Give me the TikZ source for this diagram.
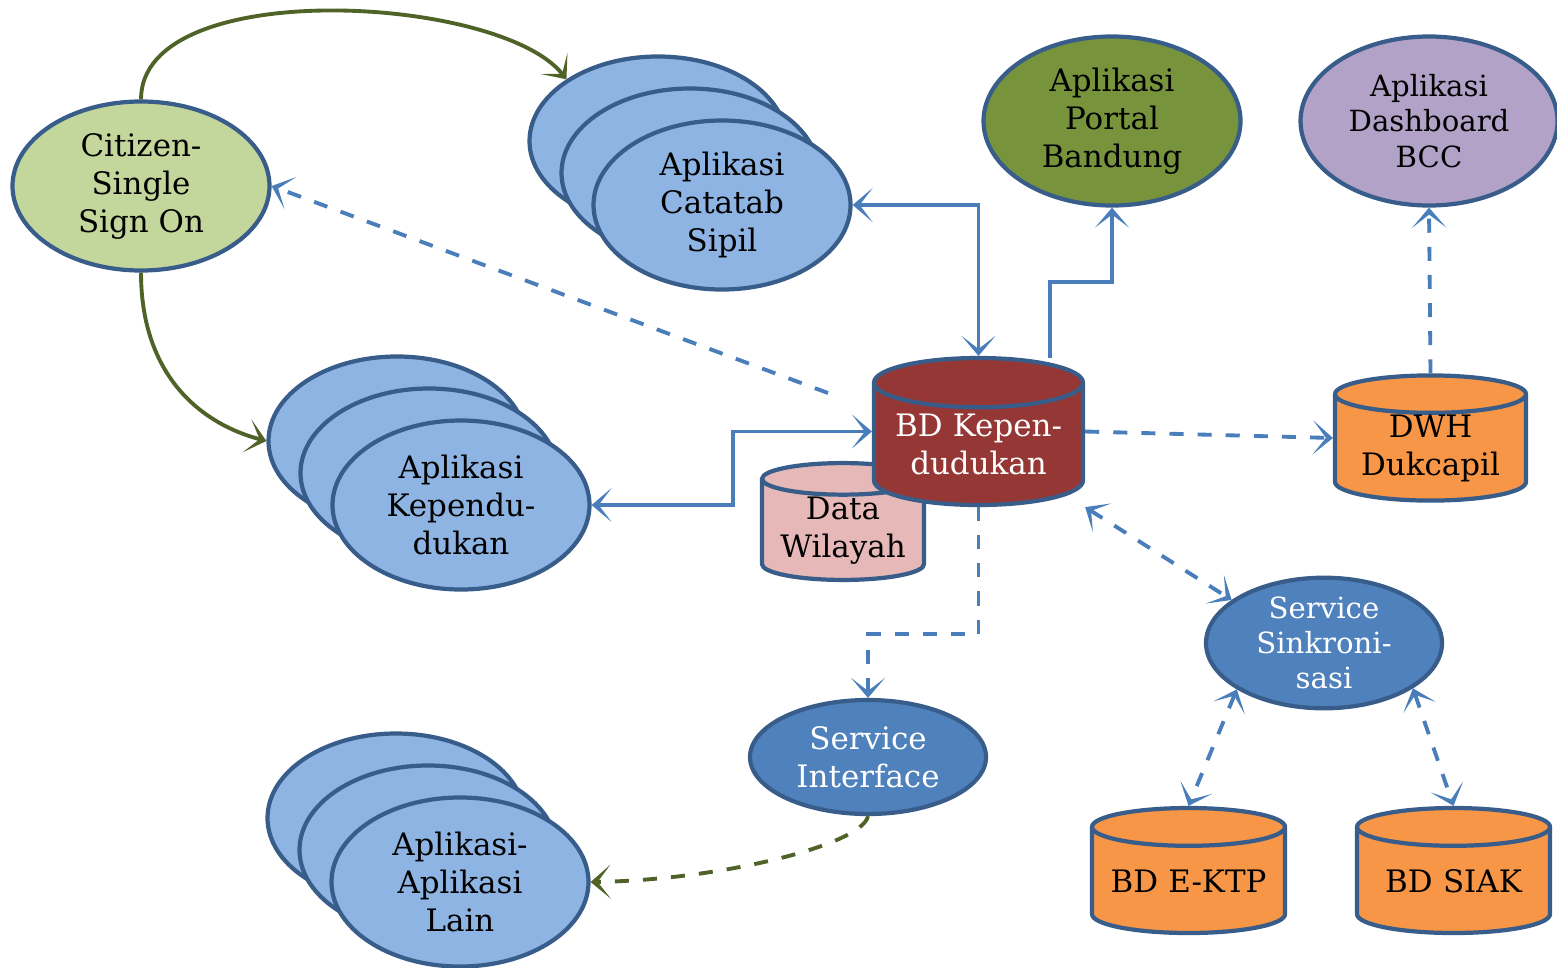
\documentclass[tikz,border=0pt]{standalone}
\usepackage{fontspec}
\setmainfont{DejaVu Serif}
\usetikzlibrary{shapes.geometric,arrows.meta}
\definecolor{rim}{HTML}{385D8A}
\definecolor{appblue}{HTML}{8EB4E3}
\definecolor{litegreen}{HTML}{C3D69B}
\definecolor{olivefill}{HTML}{77933C}
\definecolor{lilac}{HTML}{B3A2C7}
\definecolor{darkred}{HTML}{953735}
\definecolor{pinkfill}{HTML}{E6B9B8}
\definecolor{orangefill}{HTML}{F79646}
\definecolor{svcblue}{HTML}{4F81BD}
\definecolor{lineblue}{HTML}{4A7EBB}
\definecolor{oliveline}{HTML}{4F6228}
\begin{document}
\begin{tikzpicture}[
	font=\fontsize{8.8}{10.8}\selectfont,
	oval/.style={ellipse, draw=rim, line width=1.2pt, minimum width=2.57cm, minimum height=1.69cm, inner sep=0pt, align=center},
	app/.style={oval, fill=appblue},
	svc/.style={ellipse, draw=rim, fill=svcblue, text=white, line width=1.2pt, minimum width=2.36cm, minimum height=1.14cm, inner sep=0pt, align=center},
	db/.style={cylinder, shape border rotate=90, aspect=0.2, anchor=shape center, draw=rim, line width=1.2pt, inner sep=0pt, align=center},
	>={Stealth[length=2mm,width=3.4mm,inset=1.3mm]},
	link/.style={draw=lineblue, line width=1.1pt, ->},
	olivelink/.style={link, draw=oliveline},
	dashlink/.style={dash pattern=on 4pt off 4pt}
	]
	\useasboundingbox (0,0) rectangle (15.57,-9.67);
	
	% Applications
	\node[oval, fill=litegreen] (citizen) at (1.41,-1.86) {Citizen-\\Single\\Sign On};
	\foreach \d in {2,1}
	\node[app] (catatan\d) at (7.22-0.32*\d,-2.05+0.32*\d) {};
	\node[app] (catatan0) at (7.22,-2.05) {Aplikasi\\Catatab\\Sipil};
	\foreach \d in {2,1}
	\node[app] (kepend\d) at (4.61-0.32*\d,-5.05+0.32*\d) {};
	\node[app] (kepend0) at (4.61,-5.05) {Aplikasi\\Kependu-\\dukan};
	\foreach \d in {2,1}
	\node[app] (lain\d) at (4.60-0.32*\d,-8.82+0.32*\d) {};
	\node[app] (lain0) at (4.60,-8.82) {Aplikasi-\\Aplikasi\\Lain};
	\node[oval, fill=olivefill] (portal) at (11.12,-1.21) {Aplikasi\\Portal\\Bandung};
	\node[oval, fill=lilac, font=\fontsize{8.3}{10}\selectfont] (dashboard) at (14.29,-1.21) {Aplikasi\\Dashboard\\BCC};
	
	% Databases
	\node[db, fill=pinkfill, text width=1.58cm, minimum width=1.62cm, minimum height=1.13cm] (wilayah) at (8.43,-5.215) {Data\\Wilayah};
	\node[db, fill=darkred, text=white, aspect=0.24, text width=2.05cm, minimum width=2.09cm, minimum height=1.47cm] (bdk) at (9.785,-4.315) {BD Kepen-\\dudukan};
	\node[db, fill=orangefill, text width=1.87cm, minimum width=1.91cm, minimum height=1.24cm] (dwh) at (14.305,-4.38) {DWH\\Dukcapil};
	\node[db, fill=orangefill, text width=1.89cm, minimum width=1.93cm, minimum height=1.25cm] (ektp) at (11.885,-8.705) {BD E-KTP};
	\node[db, fill=orangefill, text width=1.89cm, minimum width=1.93cm, minimum height=1.25cm] (siak) at (14.535,-8.705) {BD SIAK};
	
	% Services
	\node[svc, font=\fontsize{8.3}{10}\selectfont] (sinkron) at (13.24,-6.43) {Service\\Sinkroni-\\sasi};
	\node[svc] (interface) at (8.68,-7.57) {Service\\Interface};
	
	% Single sign on
	\draw[olivelink] (citizen.north) .. controls (1.41,0.25) and (5.0,0.05) .. (catatan2.146);
	\draw[olivelink] (citizen.south) .. controls (1.41,-3.7) and (1.95,-4.22) .. (kepend2.west);
	\coordinate (ssofrom) at (8.28,-3.93);
	\draw[link, dashlink] (ssofrom) -- (citizen.east);
	
	% Solid links
	\draw[link, <->] (catatan0.east) -| (bdk.north);
	\coordinate (portalfrom) at (10.50,-3.58);
	\draw[link] (portalfrom) -- ++(0,0.76) -| (portal.south);
	\draw[link, <->] (kepend0.east) -- ++(1.41,0) |- (bdk.shape center -| bdk.west);
	
	% Dashed links
	\draw[link, dashlink] (bdk.shape center -| bdk.east) -- (dwh.shape center -| dwh.west);
	\draw[link, dashlink] (dwh.north) -- (dashboard.south);
	\draw[link, dashlink] (bdk.south) -- ++(0,-1.27) -| (interface.north);
	\draw[link, dashlink, <->] (bdk.east |- bdk.south) -- (sinkron.155);
	\draw[link, dashlink, <->] (sinkron.208) -- (ektp.north);
	\draw[link, dashlink, <->] (sinkron.333) -- (siak.north);
	\draw[olivelink, dashlink] (interface.south) .. controls (8.62,-8.45) and (7.2,-8.80) .. (lain0.east);
\end{tikzpicture}
\end{document}
